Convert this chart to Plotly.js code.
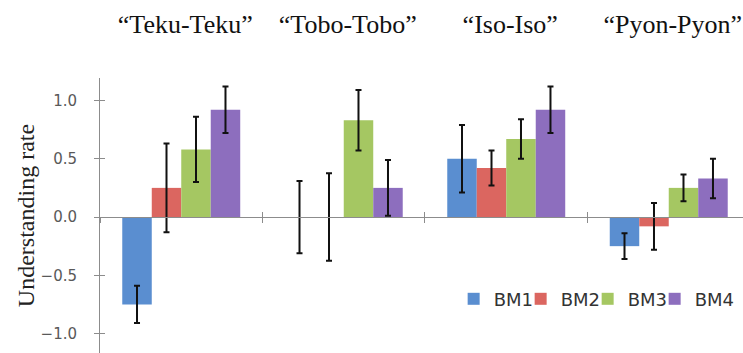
<!DOCTYPE html>
<html>
<head>
<meta charset="utf-8">
<script src="https://cdn.plot.ly/plotly-3.0.1.min.js"></script>
<style>html,body{margin:0;padding:0;background:#fff;}#chart{width:743px;height:353px;}</style>
</head>
<body>
<div id="chart"></div>
<script>
const categories = ['\u201CTeku-Teku\u201D', '\u201CTobo-Tobo\u201D', '\u201CIso-Iso\u201D', '\u201CPyon-Pyon\u201D'];
const seriesNames = ['BM1', 'BM2', 'BM3', 'BM4'];
const bm1 = [-0.75, 0.00, 0.50, -0.25];
const bm1Err = [0.16, 0.31, 0.29, 0.11];
const bm2 = [0.25, 0.00, 0.42, -0.08];
const bm2Err = [0.38, 0.375, 0.15, 0.20];
const bm3 = [0.58, 0.83, 0.67, 0.25];
const bm3Err = [0.28, 0.26, 0.17, 0.115];
const bm4 = [0.92, 0.25, 0.92, 0.33];
const bm4Err = [0.20, 0.24, 0.20, 0.17];
const yTicks = [-1.0, -0.5, 0.0, 0.5, 1.0];

const colors = ['#5A8ED0', '#DB6660', '#A5C762', '#8D6EBE'];
const values = [bm1, bm2, bm3, bm4];
const errs = [bm1Err, bm2Err, bm3Err, bm4Err];

const yRange = [-1.167, 1.193];
const xRange = [-0.5, 3.457];
const zeroPos = (0 - yRange[0]) / (yRange[1] - yRange[0]);
const axisGray = '#8c8c8c';

const traces = values.map((v, i) => ({
  type: 'bar',
  name: seriesNames[i],
  x: categories,
  y: v,
  marker: {color: colors[i]},
  error_y: {type: 'data', array: errs[i], visible: true, color: '#111', thickness: 2, width: 3},
  xaxis: 'x', yaxis: 'y',
  hoverinfo: 'x+y+name'
}));
// helper traces so the overlay axes (cross ticks, top labels) render
traces.push({type: 'scatter', mode: 'markers', x: categories, y: categories.map(() => null),
  xaxis: 'x2', yaxis: 'y2', showlegend: false, hoverinfo: 'skip'});
traces.push({type: 'scatter', mode: 'markers', x: categories, y: categories.map(() => null),
  xaxis: 'x3', yaxis: 'y', showlegend: false, hoverinfo: 'skip'});

const catAxisBase = {
  type: 'category', categoryarray: categories, categoryorder: 'array',
  range: xRange, autorange: false, fixedrange: true, showgrid: false, zeroline: false, automargin: false
};

const layout = {
  width: 743, height: 353,
  margin: {l: 100, r: 0, t: 78, b: 0},
  paper_bgcolor: '#fff', plot_bgcolor: '#fff',
  barmode: 'group', bargap: 0.274, bargroupgap: 0,
  showlegend: true,
  legend: {
    orientation: 'h', x: 0.55, xanchor: 'left', y: 0.196, yanchor: 'middle',
    entrywidth: 22, entrywidthmode: 'pixels',
    font: {family: 'DejaVu Sans', size: 18, color: '#333'},
    bgcolor: 'rgba(0,0,0,0)'
  },
  xaxis: Object.assign({}, catAxisBase, {
    anchor: 'free', position: zeroPos,
    showline: true, linecolor: axisGray, linewidth: 1,
    ticks: 'outside', tickson: 'boundaries', ticklen: 5, tickcolor: axisGray, tickwidth: 1,
    showticklabels: false
  }),
  xaxis2: Object.assign({}, catAxisBase, {
    overlaying: 'x', anchor: 'free', position: zeroPos,
    showline: false,
    ticks: 'inside', tickson: 'boundaries', ticklen: 5, tickcolor: axisGray, tickwidth: 1,
    showticklabels: false
  }),
  xaxis3: Object.assign({}, catAxisBase, {
    overlaying: 'x', anchor: 'y', side: 'top',
    showline: false, ticks: '',
    showticklabels: true, ticklabelstandoff: 39, ticklabelshift: 4,
    tickfont: {family: 'Liberation Serif', size: 26, color: '#111'}
  }),
  yaxis: {
    range: yRange, autorange: false, fixedrange: true, showgrid: false, zeroline: false, automargin: false,
    tickvals: yTicks, tickformat: '.1f',
    showline: true, linecolor: axisGray, linewidth: 1,
    ticks: 'outside', ticklen: 5, tickcolor: axisGray, tickwidth: 1,
    ticklabelstandoff: 14,
    tickfont: {family: 'DejaVu Sans', size: 15, color: '#595959'},
    title: {text: 'Understanding rate', font: {family: 'Liberation Serif', size: 24, color: '#222'}}
  },
  yaxis2: {
    overlaying: 'y', side: 'left', anchor: 'x',
    range: yRange, autorange: false, fixedrange: true, showgrid: false, zeroline: false, automargin: false,
    tickvals: yTicks, showline: false,
    ticks: 'inside', ticklen: 5, tickcolor: axisGray, tickwidth: 1,
    showticklabels: false
  }
};

Plotly.newPlot('chart', traces, layout, {displayModeBar: false, staticPlot: true}).then(gd => {
  // let the last legend label overflow its compact fixed-width entry
  gd.querySelectorAll('.legend .scrollbox, .legend').forEach(el => el.removeAttribute('clip-path'));
});
</script>
</body>
</html>
